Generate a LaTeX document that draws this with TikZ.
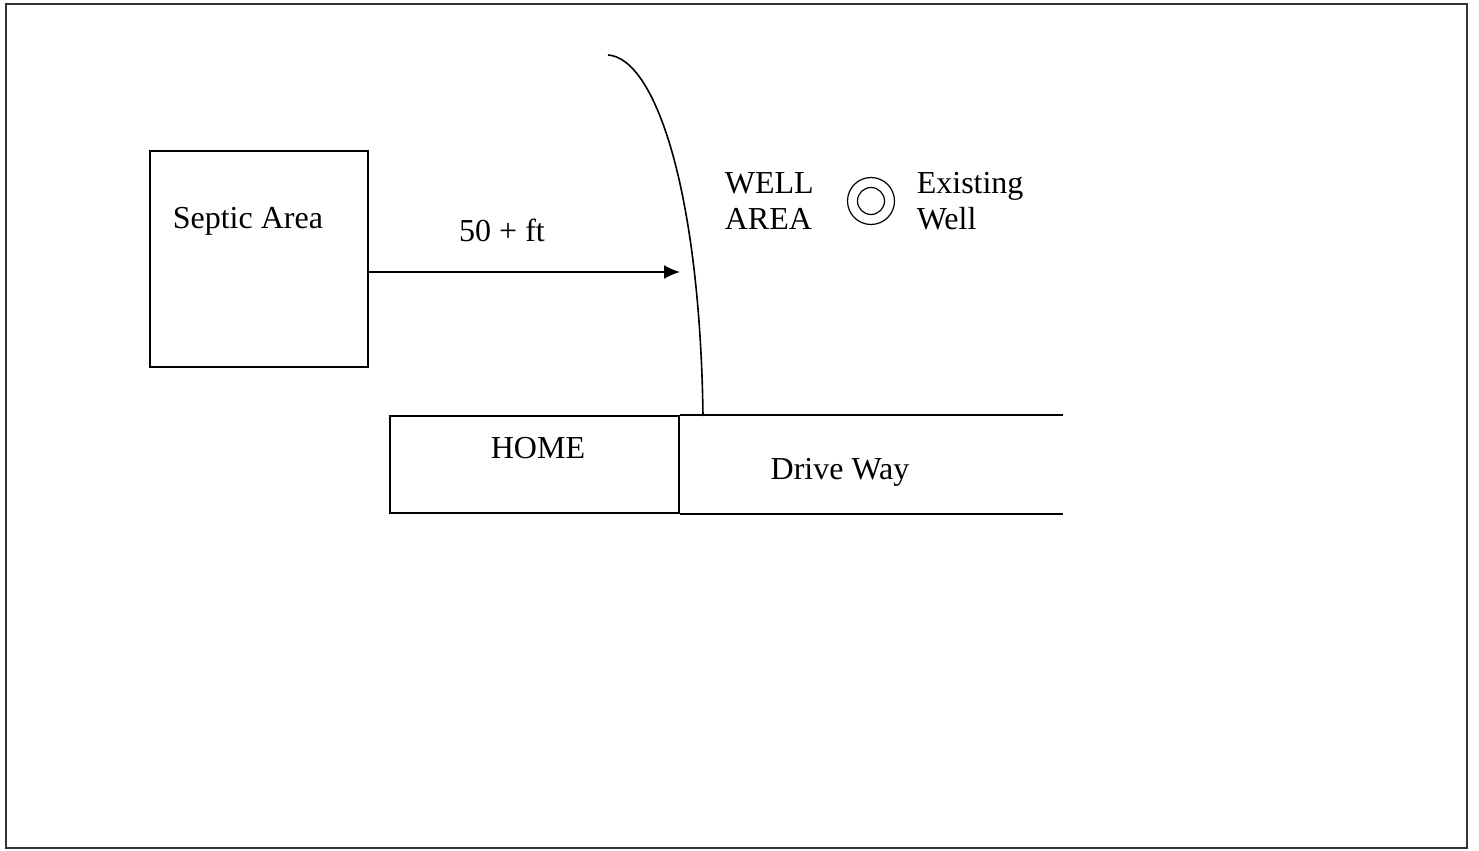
\documentclass[tikz,border=0pt]{standalone}
\usepackage{fontspec}
\setmainfont{Liberation Serif}
\usetikzlibrary{arrows.meta}
\begin{document}
\begin{tikzpicture}[x=0.5pt,y=-0.5pt,
  line width=0.8pt,
  lbl/.style={font=\fontsize{16}{18}\selectfont, inner sep=0pt},
  arr/.style={-{Latex[length=8pt,width=7pt]}}]
\useasboundingbox (0,0) rectangle (1479,851);
% frame
\draw[line width=0.6pt, black!80] (6,4) rectangle (1467,848);
% septic area
\node[draw, minimum width=109pt, minimum height=108pt, inner sep=0pt] (septic) at (259,259) {};
\node[lbl, anchor=west] (septiclbl) at (172,221) {Septic Area};
% home and driveway
\node[draw, minimum width=144.5pt, minimum height=48.5pt, inner sep=0pt] (home) at (534.5,464.5) {};
\node[lbl] (homelbl) at (538,448) {HOME};
\coordinate (dwtop) at (1063,416);
\coordinate (dwbot) at (1063,513);
\draw (home.north east) -- (home.north east -| dwtop);
\draw (home.south east) -- (home.south east -| dwbot);
\node[lbl] (drivelbl) at (840,472) {Drive Way};
% well area boundary
\coordinate (curvetop) at (608,55);
\coordinate (curvebot) at (703,416);
\draw (curvetop) .. controls (655,58) and (700,190) .. (curvebot);
% distance arrow
\coordinate (arrstart) at (368,272);
\coordinate (arrend) at (680,272);
\draw[arr] (arrstart) -- (arrend);
\node[lbl] (dist) at (502,230) {50 + ft};
% well
\node[lbl, align=left, anchor=west] (wellarea) at (724,201) {WELL\\AREA};
\node[draw, circle, minimum size=23.5pt, inner sep=0pt, line width=0.6pt] (well) at (871,201) {};
\node[draw, circle, minimum size=13.5pt, inner sep=0pt, line width=0.6pt] (wellin) at (well.center) {};
\node[lbl, align=left, anchor=west] (existing) at (916,201) {Existing\\Well};
\end{tikzpicture}
\end{document}
